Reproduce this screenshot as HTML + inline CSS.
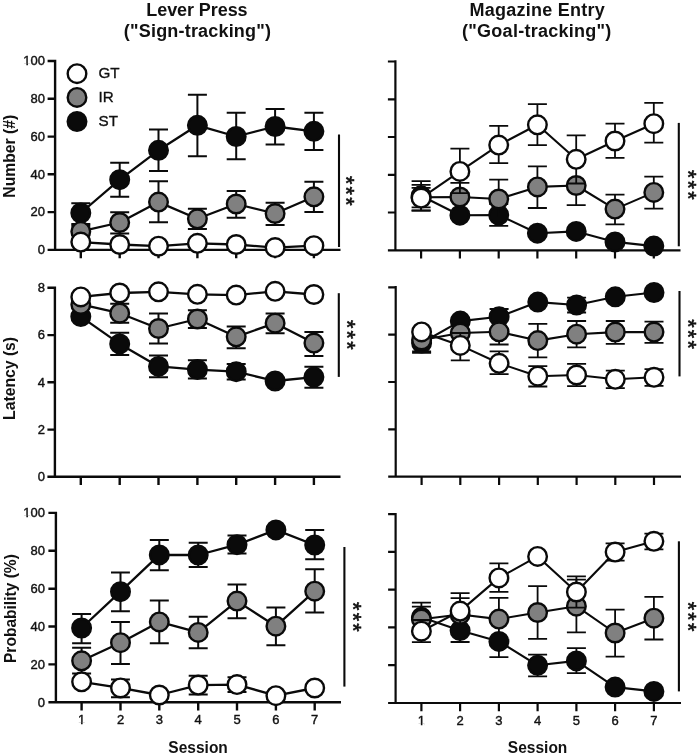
<!DOCTYPE html>
<html lang="en">
<head>
<meta charset="utf-8">
<title>Sign-tracking and goal-tracking across sessions</title>
<style>
html,body{margin:0;padding:0;background:#ffffff;}
body{width:697px;height:755px;overflow:hidden;}
svg{display:block;will-change:transform;transform:translateZ(0);filter:blur(0.4px);}
text{font-family:"Liberation Sans", Arial, sans-serif;fill:#111111;}
.tk{font-size:13px;stroke:#111;stroke-width:0.4px;}
.lg{font-size:15.2px;stroke:#111;stroke-width:0.35px;}
.b{font-weight:bold;}
.st{font-size:21.5px;letter-spacing:2.24px;stroke:#111;stroke-width:0.6px;}
</style>
</head>
<body>
<svg width="697" height="755" viewBox="0 0 697 755">
<rect x="0" y="0" width="697" height="755" fill="#ffffff"/>
<g>
<path d="M55.1,59.8V249.9M47.6,249.9H340.5M47.6,212.1H55.1M47.6,174.3H55.1M47.6,136.6H55.1M47.6,98.8H55.1M47.6,61.0H55.1M80.8,249.9V258.2M119.7,249.9V258.2M158.5,249.9V258.2M197.4,249.9V258.2M236.2,249.9V258.2M275.1,249.9V258.2M313.9,249.9V258.2" fill="none" stroke="#0a0a0a" stroke-width="2.4"/>
<text x="45.0" y="254" text-anchor="end" class="tk">0</text>
<text x="45.0" y="216" text-anchor="end" class="tk">20</text>
<text x="45.0" y="179" text-anchor="end" class="tk">40</text>
<text x="45.0" y="141" text-anchor="end" class="tk">60</text>
<text x="45.0" y="103" text-anchor="end" class="tk">80</text>
<text x="45.0" y="65" text-anchor="end" class="tk">100</text>
<rect x="23.30" y="63.58" width="3.06" height="2.72" fill="#ffffff"/>
<rect x="27.95" y="63.58" width="2.46" height="2.72" fill="#ffffff"/>
<path d="M80.8,213.0 L119.7,179.7 L158.5,150.3 L197.4,125.3 L236.2,136.5 L275.1,126.5 L313.9,131.3" fill="none" stroke="#0a0a0a" stroke-width="2.3" stroke-linejoin="round"/>
<path d="M80.8,213.0V203.3M71.3,203.3H90.3M80.8,213.0V223.9M71.3,223.9H90.3M119.7,179.7V162.7M110.2,162.7H129.2M119.7,179.7V196.8M110.2,196.8H129.2M158.5,150.3V129.4M149.0,129.4H168.0M158.5,150.3V171.1M149.0,171.1H168.0M197.4,125.3V94.8M187.9,94.8H206.9M197.4,125.3V156.3M187.9,156.3H206.9M236.2,136.5V112.7M226.7,112.7H245.7M236.2,136.5V159.2M226.7,159.2H245.7M275.1,126.5V109.1M265.6,109.1H284.6M275.1,126.5V144.4M265.6,144.4H284.6M313.9,131.3V112.7M304.4,112.7H323.4M313.9,131.3V149.9M304.4,149.9H323.4" fill="none" stroke="#0a0a0a" stroke-width="2.0"/>
<circle cx="80.8" cy="213.0" r="9.3" fill="#0a0a0a" stroke="#0a0a0a" stroke-width="2.4"/>
<circle cx="119.7" cy="179.7" r="9.3" fill="#0a0a0a" stroke="#0a0a0a" stroke-width="2.4"/>
<circle cx="158.5" cy="150.3" r="9.3" fill="#0a0a0a" stroke="#0a0a0a" stroke-width="2.4"/>
<circle cx="197.4" cy="125.3" r="9.3" fill="#0a0a0a" stroke="#0a0a0a" stroke-width="2.4"/>
<circle cx="236.2" cy="136.5" r="9.3" fill="#0a0a0a" stroke="#0a0a0a" stroke-width="2.4"/>
<circle cx="275.1" cy="126.5" r="9.3" fill="#0a0a0a" stroke="#0a0a0a" stroke-width="2.4"/>
<circle cx="313.9" cy="131.3" r="9.3" fill="#0a0a0a" stroke="#0a0a0a" stroke-width="2.4"/>
<path d="M80.8,231.4 L119.7,222.5 L158.5,202.1 L197.4,218.8 L236.2,204.0 L275.1,213.5 L313.9,196.8" fill="none" stroke="#0a0a0a" stroke-width="2.3" stroke-linejoin="round"/>
<path d="M80.8,231.4V225.8M71.3,225.8H90.3M80.8,231.4V241.0M71.3,241.0H90.3M119.7,222.5V212.3M110.2,212.3H129.2M119.7,222.5V233.6M110.2,233.6H129.2M158.5,202.1V181.3M149.0,181.3H168.0M158.5,202.1V222.3M149.0,222.3H168.0M197.4,218.8V208.8M187.9,208.8H206.9M197.4,218.8V229.0M187.9,229.0H206.9M236.2,204.0V190.9M226.7,190.9H245.7M236.2,204.0V217.8M226.7,217.8H245.7M275.1,213.5V202.8M265.6,202.8H284.6M275.1,213.5V225.0M265.6,225.0H284.6M313.9,196.8V181.8M304.4,181.8H323.4M313.9,196.8V211.9M304.4,211.9H323.4" fill="none" stroke="#0a0a0a" stroke-width="2.0"/>
<circle cx="80.8" cy="231.4" r="9.3" fill="#808080" stroke="#0a0a0a" stroke-width="2.4"/>
<circle cx="119.7" cy="222.5" r="9.3" fill="#808080" stroke="#0a0a0a" stroke-width="2.4"/>
<circle cx="158.5" cy="202.1" r="9.3" fill="#808080" stroke="#0a0a0a" stroke-width="2.4"/>
<circle cx="197.4" cy="218.8" r="9.3" fill="#808080" stroke="#0a0a0a" stroke-width="2.4"/>
<circle cx="236.2" cy="204.0" r="9.3" fill="#808080" stroke="#0a0a0a" stroke-width="2.4"/>
<circle cx="275.1" cy="213.5" r="9.3" fill="#808080" stroke="#0a0a0a" stroke-width="2.4"/>
<circle cx="313.9" cy="196.8" r="9.3" fill="#808080" stroke="#0a0a0a" stroke-width="2.4"/>
<path d="M80.8,242.1 L119.7,244.5 L158.5,246.2 L197.4,243.3 L236.2,244.5 L275.1,247.6 L313.9,245.7" fill="none" stroke="#0a0a0a" stroke-width="2.3" stroke-linejoin="round"/>
<circle cx="80.8" cy="242.1" r="9.3" fill="#ffffff" stroke="#0a0a0a" stroke-width="2.4"/>
<circle cx="119.7" cy="244.5" r="9.3" fill="#ffffff" stroke="#0a0a0a" stroke-width="2.4"/>
<circle cx="158.5" cy="246.2" r="9.3" fill="#ffffff" stroke="#0a0a0a" stroke-width="2.4"/>
<circle cx="197.4" cy="243.3" r="9.3" fill="#ffffff" stroke="#0a0a0a" stroke-width="2.4"/>
<circle cx="236.2" cy="244.5" r="9.3" fill="#ffffff" stroke="#0a0a0a" stroke-width="2.4"/>
<circle cx="275.1" cy="247.6" r="9.3" fill="#ffffff" stroke="#0a0a0a" stroke-width="2.4"/>
<circle cx="313.9" cy="245.7" r="9.3" fill="#ffffff" stroke="#0a0a0a" stroke-width="2.4"/>
<path d="M339,134.5V247" stroke="#0a0a0a" stroke-width="2.1" fill="none"/>
<text class="st" text-anchor="middle" transform="translate(339.1,191.82) rotate(90)">***</text>
</g>
<g>
<path d="M54.9,286.6V476.8M47.4,476.8H340.5M47.4,429.6H54.9M47.4,382.3H54.9M47.4,335.1H54.9M47.4,287.8H54.9M80.8,476.8V485.1M119.7,476.8V485.1M158.5,476.8V485.1M197.4,476.8V485.1M236.2,476.8V485.1M275.1,476.8V485.1M313.9,476.8V485.1" fill="none" stroke="#0a0a0a" stroke-width="2.4"/>
<text x="45.0" y="481" text-anchor="end" class="tk">0</text>
<text x="45.0" y="434" text-anchor="end" class="tk">2</text>
<text x="45.0" y="387" text-anchor="end" class="tk">4</text>
<text x="45.0" y="339" text-anchor="end" class="tk">6</text>
<text x="45.0" y="292" text-anchor="end" class="tk">8</text>
<path d="M80.8,316.6 L119.7,343.9 L158.5,366.4 L197.4,369.6 L236.2,371.7 L275.1,381.0 L313.9,377.1" fill="none" stroke="#0a0a0a" stroke-width="2.3" stroke-linejoin="round"/>
<path d="M119.7,343.9V332.7M110.2,332.7H129.2M119.7,343.9V354.9M110.2,354.9H129.2M158.5,366.4V355.4M149.0,355.4H168.0M158.5,366.4V377.2M149.0,377.2H168.0M197.4,369.6V360.3M187.9,360.3H206.9M197.4,369.6V378.6M187.9,378.6H206.9M236.2,371.7V364.0M226.7,364.0H245.7M236.2,371.7V379.4M226.7,379.4H245.7M313.9,377.1V366.8M304.4,366.8H323.4M313.9,377.1V387.8M304.4,387.8H323.4" fill="none" stroke="#0a0a0a" stroke-width="2.0"/>
<circle cx="80.8" cy="316.6" r="9.3" fill="#0a0a0a" stroke="#0a0a0a" stroke-width="2.4"/>
<circle cx="119.7" cy="343.9" r="9.3" fill="#0a0a0a" stroke="#0a0a0a" stroke-width="2.4"/>
<circle cx="158.5" cy="366.4" r="9.3" fill="#0a0a0a" stroke="#0a0a0a" stroke-width="2.4"/>
<circle cx="197.4" cy="369.6" r="9.3" fill="#0a0a0a" stroke="#0a0a0a" stroke-width="2.4"/>
<circle cx="236.2" cy="371.7" r="9.3" fill="#0a0a0a" stroke="#0a0a0a" stroke-width="2.4"/>
<circle cx="275.1" cy="381.0" r="9.3" fill="#0a0a0a" stroke="#0a0a0a" stroke-width="2.4"/>
<circle cx="313.9" cy="377.1" r="9.3" fill="#0a0a0a" stroke="#0a0a0a" stroke-width="2.4"/>
<path d="M80.8,304.4 L119.7,313.2 L158.5,328.5 L197.4,319.0 L236.2,336.8 L275.1,323.2 L313.9,343.1" fill="none" stroke="#0a0a0a" stroke-width="2.3" stroke-linejoin="round"/>
<path d="M119.7,313.2V303.7M110.2,303.7H129.2M119.7,313.2V322.8M110.2,322.8H129.2M158.5,328.5V313.6M149.0,313.6H168.0M158.5,328.5V343.5M149.0,343.5H168.0M197.4,319.0V310.2M187.9,310.2H206.9M197.4,319.0V327.9M187.9,327.9H206.9M236.2,336.8V326.4M226.7,326.4H245.7M236.2,336.8V348.2M226.7,348.2H245.7M275.1,323.2V313.6M265.6,313.6H284.6M275.1,323.2V333.2M265.6,333.2H284.6M313.9,343.1V331.9M304.4,331.9H323.4M313.9,343.1V355.9M304.4,355.9H323.4" fill="none" stroke="#0a0a0a" stroke-width="2.0"/>
<circle cx="80.8" cy="304.4" r="9.3" fill="#808080" stroke="#0a0a0a" stroke-width="2.4"/>
<circle cx="119.7" cy="313.2" r="9.3" fill="#808080" stroke="#0a0a0a" stroke-width="2.4"/>
<circle cx="158.5" cy="328.5" r="9.3" fill="#808080" stroke="#0a0a0a" stroke-width="2.4"/>
<circle cx="197.4" cy="319.0" r="9.3" fill="#808080" stroke="#0a0a0a" stroke-width="2.4"/>
<circle cx="236.2" cy="336.8" r="9.3" fill="#808080" stroke="#0a0a0a" stroke-width="2.4"/>
<circle cx="275.1" cy="323.2" r="9.3" fill="#808080" stroke="#0a0a0a" stroke-width="2.4"/>
<circle cx="313.9" cy="343.1" r="9.3" fill="#808080" stroke="#0a0a0a" stroke-width="2.4"/>
<path d="M80.8,296.9 L119.7,293.0 L158.5,291.8 L197.4,294.3 L236.2,295.1 L275.1,291.3 L313.9,294.5" fill="none" stroke="#0a0a0a" stroke-width="2.3" stroke-linejoin="round"/>
<circle cx="80.8" cy="296.9" r="9.3" fill="#ffffff" stroke="#0a0a0a" stroke-width="2.4"/>
<circle cx="119.7" cy="293.0" r="9.3" fill="#ffffff" stroke="#0a0a0a" stroke-width="2.4"/>
<circle cx="158.5" cy="291.8" r="9.3" fill="#ffffff" stroke="#0a0a0a" stroke-width="2.4"/>
<circle cx="197.4" cy="294.3" r="9.3" fill="#ffffff" stroke="#0a0a0a" stroke-width="2.4"/>
<circle cx="236.2" cy="295.1" r="9.3" fill="#ffffff" stroke="#0a0a0a" stroke-width="2.4"/>
<circle cx="275.1" cy="291.3" r="9.3" fill="#ffffff" stroke="#0a0a0a" stroke-width="2.4"/>
<circle cx="313.9" cy="294.5" r="9.3" fill="#ffffff" stroke="#0a0a0a" stroke-width="2.4"/>
<path d="M338.8,293.2V376.9" stroke="#0a0a0a" stroke-width="2.1" fill="none"/>
<text class="st" text-anchor="middle" transform="translate(340.4,335.92) rotate(90)">***</text>
</g>
<g>
<path d="M55.9,511.7V702.3M48.4,702.3H341.0M48.4,664.4H55.9M48.4,626.5H55.9M48.4,588.7H55.9M48.4,550.8H55.9M48.4,512.9H55.9M81.6,702.3V710.6M120.5,702.3V710.6M159.3,702.3V710.6M198.2,702.3V710.6M237.0,702.3V710.6M275.9,702.3V710.6M314.7,702.3V710.6" fill="none" stroke="#0a0a0a" stroke-width="2.4"/>
<text x="45.0" y="707" text-anchor="end" class="tk">0</text>
<text x="45.0" y="669" text-anchor="end" class="tk">20</text>
<text x="45.0" y="631" text-anchor="end" class="tk">40</text>
<text x="45.0" y="593" text-anchor="end" class="tk">60</text>
<text x="45.0" y="555" text-anchor="end" class="tk">80</text>
<text x="45.0" y="517" text-anchor="end" class="tk">100</text>
<rect x="23.30" y="515.58" width="3.06" height="2.72" fill="#ffffff"/>
<rect x="27.95" y="515.58" width="2.46" height="2.72" fill="#ffffff"/>
<text x="81.6" y="724" text-anchor="middle" class="tk">1</text>
<rect x="77.98" y="722.58" width="3.06" height="2.72" fill="#ffffff"/>
<rect x="82.62" y="722.58" width="2.46" height="2.72" fill="#ffffff"/>
<text x="120.5" y="724" text-anchor="middle" class="tk">2</text>
<text x="159.3" y="724" text-anchor="middle" class="tk">3</text>
<text x="198.2" y="724" text-anchor="middle" class="tk">4</text>
<text x="237.0" y="724" text-anchor="middle" class="tk">5</text>
<text x="275.9" y="724" text-anchor="middle" class="tk">6</text>
<text x="314.7" y="724" text-anchor="middle" class="tk">7</text>
<path d="M81.6,628.0 L120.5,591.7 L159.3,554.9 L198.2,555.0 L237.0,544.7 L275.9,529.9 L314.7,545.0" fill="none" stroke="#0a0a0a" stroke-width="2.3" stroke-linejoin="round"/>
<path d="M81.6,628.0V613.9M72.1,613.9H91.1M81.6,628.0V643.2M72.1,643.2H91.1M120.5,591.7V572.6M111.0,572.6H129.9M120.5,591.7V611.3M111.0,611.3H129.9M159.3,554.9V539.9M149.8,539.9H168.8M159.3,554.9V570.3M149.8,570.3H168.8M198.2,555.0V542.7M188.7,542.7H207.7M198.2,555.0V566.9M188.7,566.9H207.7M237.0,544.7V535.6M227.5,535.6H246.5M237.0,544.7V553.6M227.5,553.6H246.5M314.7,545.0V529.9M305.2,529.9H324.2M314.7,545.0V559.3M305.2,559.3H324.2" fill="none" stroke="#0a0a0a" stroke-width="2.0"/>
<circle cx="81.6" cy="628.0" r="9.3" fill="#0a0a0a" stroke="#0a0a0a" stroke-width="2.4"/>
<circle cx="120.5" cy="591.7" r="9.3" fill="#0a0a0a" stroke="#0a0a0a" stroke-width="2.4"/>
<circle cx="159.3" cy="554.9" r="9.3" fill="#0a0a0a" stroke="#0a0a0a" stroke-width="2.4"/>
<circle cx="198.2" cy="555.0" r="9.3" fill="#0a0a0a" stroke="#0a0a0a" stroke-width="2.4"/>
<circle cx="237.0" cy="544.7" r="9.3" fill="#0a0a0a" stroke="#0a0a0a" stroke-width="2.4"/>
<circle cx="275.9" cy="529.9" r="9.3" fill="#0a0a0a" stroke="#0a0a0a" stroke-width="2.4"/>
<circle cx="314.7" cy="545.0" r="9.3" fill="#0a0a0a" stroke="#0a0a0a" stroke-width="2.4"/>
<path d="M81.6,660.8 L120.5,642.7 L159.3,621.9 L198.2,632.4 L237.0,601.1 L275.9,626.2 L314.7,591.2" fill="none" stroke="#0a0a0a" stroke-width="2.3" stroke-linejoin="round"/>
<path d="M81.6,660.8V647.8M72.1,647.8H91.1M81.6,660.8V673.5M72.1,673.5H91.1M120.5,642.7V621.9M111.0,621.9H129.9M120.5,642.7V664.0M111.0,664.0H129.9M159.3,621.9V600.5M149.8,600.5H168.8M159.3,621.9V643.2M149.8,643.2H168.8M198.2,632.4V616.7M188.7,616.7H207.7M198.2,632.4V648.3M188.7,648.3H207.7M237.0,601.1V584.6M227.5,584.6H246.5M237.0,601.1V618.2M227.5,618.2H246.5M275.9,626.2V607.4M266.4,607.4H285.4M275.9,626.2V645.3M266.4,645.3H285.4M314.7,591.2V569.2M305.2,569.2H324.2M314.7,591.2V612.5M305.2,612.5H324.2" fill="none" stroke="#0a0a0a" stroke-width="2.0"/>
<circle cx="81.6" cy="660.8" r="9.3" fill="#808080" stroke="#0a0a0a" stroke-width="2.4"/>
<circle cx="120.5" cy="642.7" r="9.3" fill="#808080" stroke="#0a0a0a" stroke-width="2.4"/>
<circle cx="159.3" cy="621.9" r="9.3" fill="#808080" stroke="#0a0a0a" stroke-width="2.4"/>
<circle cx="198.2" cy="632.4" r="9.3" fill="#808080" stroke="#0a0a0a" stroke-width="2.4"/>
<circle cx="237.0" cy="601.1" r="9.3" fill="#808080" stroke="#0a0a0a" stroke-width="2.4"/>
<circle cx="275.9" cy="626.2" r="9.3" fill="#808080" stroke="#0a0a0a" stroke-width="2.4"/>
<circle cx="314.7" cy="591.2" r="9.3" fill="#808080" stroke="#0a0a0a" stroke-width="2.4"/>
<path d="M81.6,681.8 L120.5,687.9 L159.3,695.0 L198.2,685.1 L237.0,684.6 L275.9,695.7 L314.7,688.0" fill="none" stroke="#0a0a0a" stroke-width="2.3" stroke-linejoin="round"/>
<path d="M120.5,687.9V679.4M111.0,679.4H129.9M120.5,687.9V697.3M111.0,697.3H129.9M198.2,685.1V675.7M188.7,675.7H207.7M198.2,685.1V694.5M188.7,694.5H207.7M237.0,684.6V677.2M227.5,677.2H246.5M237.0,684.6V692.0M227.5,692.0H246.5" fill="none" stroke="#0a0a0a" stroke-width="2.0"/>
<circle cx="81.6" cy="681.8" r="9.3" fill="#ffffff" stroke="#0a0a0a" stroke-width="2.4"/>
<circle cx="120.5" cy="687.9" r="9.3" fill="#ffffff" stroke="#0a0a0a" stroke-width="2.4"/>
<circle cx="159.3" cy="695.0" r="9.3" fill="#ffffff" stroke="#0a0a0a" stroke-width="2.4"/>
<circle cx="198.2" cy="685.1" r="9.3" fill="#ffffff" stroke="#0a0a0a" stroke-width="2.4"/>
<circle cx="237.0" cy="684.6" r="9.3" fill="#ffffff" stroke="#0a0a0a" stroke-width="2.4"/>
<circle cx="275.9" cy="695.7" r="9.3" fill="#ffffff" stroke="#0a0a0a" stroke-width="2.4"/>
<circle cx="314.7" cy="688.0" r="9.3" fill="#ffffff" stroke="#0a0a0a" stroke-width="2.4"/>
<path d="M344.4,547V686.6" stroke="#0a0a0a" stroke-width="2.1" fill="none"/>
<text class="st" text-anchor="middle" transform="translate(346.4,618.02) rotate(90)">***</text>
</g>
<g>
<path d="M395.4,60.3V250.3M387.9,250.3H680.5M387.9,212.5H395.4M387.9,174.8H395.4M387.9,137.0H395.4M387.9,99.3H395.4M387.9,61.5H395.4M421.1,250.3V258.6M459.9,250.3V258.6M498.7,250.3V258.6M537.4,250.3V258.6M576.2,250.3V258.6M615.0,250.3V258.6M653.8,250.3V258.6" fill="none" stroke="#0a0a0a" stroke-width="2.2"/>
<path d="M421.1,195.8 L459.9,215.2 L498.7,215.0 L537.4,233.2 L576.2,231.4 L615.0,241.9 L653.8,246.1" fill="none" stroke="#0a0a0a" stroke-width="2.1" stroke-linejoin="round"/>
<path d="M421.1,195.8V181.1M411.6,181.1H430.6M421.1,195.8V210.5M411.6,210.5H430.6M498.7,215.0V204.0M489.2,204.0H508.2M498.7,215.0V225.9M489.2,225.9H508.2" fill="none" stroke="#0a0a0a" stroke-width="1.8"/>
<circle cx="421.1" cy="195.8" r="9.3" fill="#0a0a0a" stroke="#0a0a0a" stroke-width="2.4"/>
<circle cx="459.9" cy="215.2" r="9.3" fill="#0a0a0a" stroke="#0a0a0a" stroke-width="2.4"/>
<circle cx="498.7" cy="215.0" r="9.3" fill="#0a0a0a" stroke="#0a0a0a" stroke-width="2.4"/>
<circle cx="537.4" cy="233.2" r="9.3" fill="#0a0a0a" stroke="#0a0a0a" stroke-width="2.4"/>
<circle cx="576.2" cy="231.4" r="9.3" fill="#0a0a0a" stroke="#0a0a0a" stroke-width="2.4"/>
<circle cx="615.0" cy="241.9" r="9.3" fill="#0a0a0a" stroke="#0a0a0a" stroke-width="2.4"/>
<circle cx="653.8" cy="246.1" r="9.3" fill="#0a0a0a" stroke="#0a0a0a" stroke-width="2.4"/>
<path d="M421.1,197.3 L459.9,197.0 L498.7,199.0 L537.4,186.9 L576.2,185.5 L615.0,209.1 L653.8,192.4" fill="none" stroke="#0a0a0a" stroke-width="2.1" stroke-linejoin="round"/>
<path d="M421.1,197.3V187.8M411.6,187.8H430.6M421.1,197.3V207.3M411.6,207.3H430.6M459.9,197.0V182.9M450.4,182.9H469.4M459.9,197.0V211.5M450.4,211.5H469.4M498.7,199.0V179.6M489.2,179.6H508.2M498.7,199.0V218.0M489.2,218.0H508.2M537.4,186.9V166.4M527.9,166.4H546.9M537.4,186.9V208.0M527.9,208.0H546.9M576.2,185.5V205.2M566.7,205.2H585.7M615.0,209.1V194.6M605.5,194.6H624.5M615.0,209.1V224.4M605.5,224.4H624.5M653.8,192.4V176.6M644.3,176.6H663.3M653.8,192.4V208.6M644.3,208.6H663.3" fill="none" stroke="#0a0a0a" stroke-width="1.8"/>
<circle cx="421.1" cy="197.3" r="9.3" fill="#808080" stroke="#0a0a0a" stroke-width="2.4"/>
<circle cx="459.9" cy="197.0" r="9.3" fill="#808080" stroke="#0a0a0a" stroke-width="2.4"/>
<circle cx="498.7" cy="199.0" r="9.3" fill="#808080" stroke="#0a0a0a" stroke-width="2.4"/>
<circle cx="537.4" cy="186.9" r="9.3" fill="#808080" stroke="#0a0a0a" stroke-width="2.4"/>
<circle cx="576.2" cy="185.5" r="9.3" fill="#808080" stroke="#0a0a0a" stroke-width="2.4"/>
<circle cx="615.0" cy="209.1" r="9.3" fill="#808080" stroke="#0a0a0a" stroke-width="2.4"/>
<circle cx="653.8" cy="192.4" r="9.3" fill="#808080" stroke="#0a0a0a" stroke-width="2.4"/>
<path d="M421.1,198.1 L459.9,171.4 L498.7,145.1 L537.4,124.8 L576.2,159.3 L615.0,141.0 L653.8,123.7" fill="none" stroke="#0a0a0a" stroke-width="2.1" stroke-linejoin="round"/>
<path d="M421.1,198.1V184.9M411.6,184.9H430.6M421.1,198.1V210.7M411.6,210.7H430.6M459.9,171.4V148.7M450.4,148.7H469.4M459.9,171.4V193.1M450.4,193.1H469.4M498.7,145.1V125.9M489.2,125.9H508.2M498.7,145.1V163.2M489.2,163.2H508.2M537.4,124.8V104.2M527.9,104.2H546.9M537.4,124.8V145.1M527.9,145.1H546.9M576.2,159.3V135.4M566.7,135.4H585.7M576.2,159.3V183.5M566.7,183.5H585.7M615.0,141.0V123.7M605.5,123.7H624.5M615.0,141.0V157.9M605.5,157.9H624.5M653.8,123.7V102.9M644.3,102.9H663.3M653.8,123.7V142.6M644.3,142.6H663.3" fill="none" stroke="#0a0a0a" stroke-width="1.8"/>
<circle cx="421.1" cy="198.1" r="9.3" fill="#ffffff" stroke="#0a0a0a" stroke-width="2.4"/>
<circle cx="459.9" cy="171.4" r="9.3" fill="#ffffff" stroke="#0a0a0a" stroke-width="2.4"/>
<circle cx="498.7" cy="145.1" r="9.3" fill="#ffffff" stroke="#0a0a0a" stroke-width="2.4"/>
<circle cx="537.4" cy="124.8" r="9.3" fill="#ffffff" stroke="#0a0a0a" stroke-width="2.4"/>
<circle cx="576.2" cy="159.3" r="9.3" fill="#ffffff" stroke="#0a0a0a" stroke-width="2.4"/>
<circle cx="615.0" cy="141.0" r="9.3" fill="#ffffff" stroke="#0a0a0a" stroke-width="2.4"/>
<circle cx="653.8" cy="123.7" r="9.3" fill="#ffffff" stroke="#0a0a0a" stroke-width="2.4"/>
<path d="M678.8,122.9V246.3" stroke="#0a0a0a" stroke-width="2.1" fill="none"/>
<text class="st" text-anchor="middle" transform="translate(681.0,185.82) rotate(90)">***</text>
</g>
<g>
<path d="M395.7,286.1V476.6M388.2,476.6H681.0M388.2,429.3H395.7M388.2,382.0H395.7M388.2,334.6H395.7M388.2,287.3H395.7M421.6,476.6V484.9M460.3,476.6V484.9M499.1,476.6V484.9M537.8,476.6V484.9M576.6,476.6V484.9M615.3,476.6V484.9M654.0,476.6V484.9" fill="none" stroke="#0a0a0a" stroke-width="2.2"/>
<path d="M421.6,343.0 L460.3,321.1 L499.1,316.7 L537.8,302.1 L576.6,305.0 L615.3,296.8 L654.0,292.5" fill="none" stroke="#0a0a0a" stroke-width="2.1" stroke-linejoin="round"/>
<path d="M421.6,343.0V352.8M412.1,352.8H431.1M499.1,316.7V309.0M489.6,309.0H508.6M576.6,305.0V297.7M567.1,297.7H586.1M576.6,305.0V312.5M567.1,312.5H586.1" fill="none" stroke="#0a0a0a" stroke-width="1.8"/>
<circle cx="421.6" cy="343.0" r="9.3" fill="#0a0a0a" stroke="#0a0a0a" stroke-width="2.4"/>
<circle cx="460.3" cy="321.1" r="9.3" fill="#0a0a0a" stroke="#0a0a0a" stroke-width="2.4"/>
<circle cx="499.1" cy="316.7" r="9.3" fill="#0a0a0a" stroke="#0a0a0a" stroke-width="2.4"/>
<circle cx="537.8" cy="302.1" r="9.3" fill="#0a0a0a" stroke="#0a0a0a" stroke-width="2.4"/>
<circle cx="576.6" cy="305.0" r="9.3" fill="#0a0a0a" stroke="#0a0a0a" stroke-width="2.4"/>
<circle cx="615.3" cy="296.8" r="9.3" fill="#0a0a0a" stroke="#0a0a0a" stroke-width="2.4"/>
<circle cx="654.0" cy="292.5" r="9.3" fill="#0a0a0a" stroke="#0a0a0a" stroke-width="2.4"/>
<path d="M421.6,340.0 L460.3,333.0 L499.1,331.8 L537.8,340.6 L576.6,334.2 L615.3,332.1 L654.0,332.1" fill="none" stroke="#0a0a0a" stroke-width="2.1" stroke-linejoin="round"/>
<path d="M421.6,340.0V351.5M412.1,351.5H431.1M499.1,331.8V344.5M489.6,344.5H508.6M537.8,340.6V323.9M528.3,323.9H547.3M537.8,340.6V357.4M528.3,357.4H547.3M576.6,334.2V321.0M567.1,321.0H586.1M576.6,334.2V347.3M567.1,347.3H586.1M615.3,332.1V321.0M605.8,321.0H624.8M615.3,332.1V343.8M605.8,343.8H624.8M654.0,332.1V321.6M644.5,321.6H663.5M654.0,332.1V342.9M644.5,342.9H663.5" fill="none" stroke="#0a0a0a" stroke-width="1.8"/>
<circle cx="421.6" cy="340.0" r="9.3" fill="#808080" stroke="#0a0a0a" stroke-width="2.4"/>
<circle cx="460.3" cy="333.0" r="9.3" fill="#808080" stroke="#0a0a0a" stroke-width="2.4"/>
<circle cx="499.1" cy="331.8" r="9.3" fill="#808080" stroke="#0a0a0a" stroke-width="2.4"/>
<circle cx="537.8" cy="340.6" r="9.3" fill="#808080" stroke="#0a0a0a" stroke-width="2.4"/>
<circle cx="576.6" cy="334.2" r="9.3" fill="#808080" stroke="#0a0a0a" stroke-width="2.4"/>
<circle cx="615.3" cy="332.1" r="9.3" fill="#808080" stroke="#0a0a0a" stroke-width="2.4"/>
<circle cx="654.0" cy="332.1" r="9.3" fill="#808080" stroke="#0a0a0a" stroke-width="2.4"/>
<path d="M421.6,331.9 L460.3,345.4 L499.1,363.3 L537.8,376.2 L576.6,375.0 L615.3,379.3 L654.0,377.3" fill="none" stroke="#0a0a0a" stroke-width="2.1" stroke-linejoin="round"/>
<path d="M460.3,345.4V333.0M450.8,333.0H469.8M460.3,345.4V360.3M450.8,360.3H469.8M499.1,363.3V351.4M489.6,351.4H508.6M499.1,363.3V374.2M489.6,374.2H508.6M537.8,376.2V366.1M528.3,366.1H547.3M537.8,376.2V386.5M528.3,386.5H547.3M576.6,375.0V363.9M567.1,363.9H586.1M576.6,375.0V386.1M567.1,386.1H586.1M615.3,379.3V370.6M605.8,370.6H624.8M615.3,379.3V388.1M605.8,388.1H624.8M654.0,377.3V369.1M644.5,369.1H663.5M654.0,377.3V385.8M644.5,385.8H663.5" fill="none" stroke="#0a0a0a" stroke-width="1.8"/>
<circle cx="421.6" cy="331.9" r="9.3" fill="#ffffff" stroke="#0a0a0a" stroke-width="2.4"/>
<circle cx="460.3" cy="345.4" r="9.3" fill="#ffffff" stroke="#0a0a0a" stroke-width="2.4"/>
<circle cx="499.1" cy="363.3" r="9.3" fill="#ffffff" stroke="#0a0a0a" stroke-width="2.4"/>
<circle cx="537.8" cy="376.2" r="9.3" fill="#ffffff" stroke="#0a0a0a" stroke-width="2.4"/>
<circle cx="576.6" cy="375.0" r="9.3" fill="#ffffff" stroke="#0a0a0a" stroke-width="2.4"/>
<circle cx="615.3" cy="379.3" r="9.3" fill="#ffffff" stroke="#0a0a0a" stroke-width="2.4"/>
<circle cx="654.0" cy="377.3" r="9.3" fill="#ffffff" stroke="#0a0a0a" stroke-width="2.4"/>
<path d="M679.5,291V376.4" stroke="#0a0a0a" stroke-width="2.1" fill="none"/>
<text class="st" text-anchor="middle" transform="translate(680.7,335.12) rotate(90)">***</text>
</g>
<g>
<path d="M395.6,512.9V703.0M388.1,703.0H681.0M388.1,665.2H395.6M388.1,627.4H395.6M388.1,589.7H395.6M388.1,551.9H395.6M388.1,514.1H395.6M421.4,703.0V711.3M460.1,703.0V711.3M498.9,703.0V711.3M537.6,703.0V711.3M576.4,703.0V711.3M615.1,703.0V711.3M653.9,703.0V711.3" fill="none" stroke="#0a0a0a" stroke-width="2.2"/>
<text x="421.4" y="725" text-anchor="middle" class="tk">1</text>
<rect x="417.78" y="723.58" width="3.06" height="2.72" fill="#ffffff"/>
<rect x="422.42" y="723.58" width="2.46" height="2.72" fill="#ffffff"/>
<text x="460.1" y="725" text-anchor="middle" class="tk">2</text>
<text x="498.9" y="725" text-anchor="middle" class="tk">3</text>
<text x="537.6" y="725" text-anchor="middle" class="tk">4</text>
<text x="576.4" y="725" text-anchor="middle" class="tk">5</text>
<text x="615.1" y="725" text-anchor="middle" class="tk">6</text>
<text x="653.9" y="725" text-anchor="middle" class="tk">7</text>
<path d="M421.4,617.3 L460.1,630.6 L498.9,641.4 L537.6,665.3 L576.4,660.9 L615.1,687.1 L653.9,691.4" fill="none" stroke="#0a0a0a" stroke-width="2.1" stroke-linejoin="round"/>
<path d="M421.4,617.3V602.6M411.9,602.6H430.9M421.4,617.3V632.0M411.9,632.0H430.9M460.1,630.6V642.0M450.6,642.0H469.6M498.9,641.4V657.2M489.4,657.2H508.4M537.6,665.3V654.6M528.1,654.6H547.1M537.6,665.3V676.3M528.1,676.3H547.1M576.4,660.9V648.1M566.9,648.1H585.9M576.4,660.9V673.1M566.9,673.1H585.9" fill="none" stroke="#0a0a0a" stroke-width="1.8"/>
<circle cx="421.4" cy="617.3" r="9.3" fill="#0a0a0a" stroke="#0a0a0a" stroke-width="2.4"/>
<circle cx="460.1" cy="630.6" r="9.3" fill="#0a0a0a" stroke="#0a0a0a" stroke-width="2.4"/>
<circle cx="498.9" cy="641.4" r="9.3" fill="#0a0a0a" stroke="#0a0a0a" stroke-width="2.4"/>
<circle cx="537.6" cy="665.3" r="9.3" fill="#0a0a0a" stroke="#0a0a0a" stroke-width="2.4"/>
<circle cx="576.4" cy="660.9" r="9.3" fill="#0a0a0a" stroke="#0a0a0a" stroke-width="2.4"/>
<circle cx="615.1" cy="687.1" r="9.3" fill="#0a0a0a" stroke="#0a0a0a" stroke-width="2.4"/>
<circle cx="653.9" cy="691.4" r="9.3" fill="#0a0a0a" stroke="#0a0a0a" stroke-width="2.4"/>
<path d="M421.4,619.2 L460.1,614.5 L498.9,619.1 L537.6,612.5 L576.4,606.2 L615.1,633.0 L653.9,618.2" fill="none" stroke="#0a0a0a" stroke-width="2.1" stroke-linejoin="round"/>
<path d="M421.4,619.2V606.6M411.9,606.6H430.9M421.4,619.2V632.0M411.9,632.0H430.9M460.1,614.5V598.2M450.6,598.2H469.6M460.1,614.5V631.0M450.6,631.0H469.6M498.9,619.1V597.9M489.4,597.9H508.4M498.9,619.1V640.0M489.4,640.0H508.4M537.6,612.5V586.2M528.1,586.2H547.1M537.6,612.5V638.8M528.1,638.8H547.1M576.4,606.2V579.7M566.9,579.7H585.9M576.4,606.2V632.4M566.9,632.4H585.9M615.1,633.0V609.6M605.6,609.6H624.6M615.1,633.0V656.6M605.6,656.6H624.6M653.9,618.2V596.8M644.4,596.8H663.4M653.9,618.2V639.5M644.4,639.5H663.4" fill="none" stroke="#0a0a0a" stroke-width="1.8"/>
<circle cx="421.4" cy="619.2" r="9.3" fill="#808080" stroke="#0a0a0a" stroke-width="2.4"/>
<circle cx="460.1" cy="614.5" r="9.3" fill="#808080" stroke="#0a0a0a" stroke-width="2.4"/>
<circle cx="498.9" cy="619.1" r="9.3" fill="#808080" stroke="#0a0a0a" stroke-width="2.4"/>
<circle cx="537.6" cy="612.5" r="9.3" fill="#808080" stroke="#0a0a0a" stroke-width="2.4"/>
<circle cx="576.4" cy="606.2" r="9.3" fill="#808080" stroke="#0a0a0a" stroke-width="2.4"/>
<circle cx="615.1" cy="633.0" r="9.3" fill="#808080" stroke="#0a0a0a" stroke-width="2.4"/>
<circle cx="653.9" cy="618.2" r="9.3" fill="#808080" stroke="#0a0a0a" stroke-width="2.4"/>
<path d="M421.4,631.2 L460.1,611.1 L498.9,577.9 L537.6,556.4 L576.4,592.0 L615.1,552.1 L653.9,541.3" fill="none" stroke="#0a0a0a" stroke-width="2.1" stroke-linejoin="round"/>
<path d="M421.4,631.2V620.0M411.9,620.0H430.9M421.4,631.2V642.2M411.9,642.2H430.9M460.1,611.1V593.2M450.6,593.2H469.6M460.1,611.1V629.0M450.6,629.0H469.6M498.9,577.9V563.4M489.4,563.4H508.4M498.9,577.9V591.8M489.4,591.8H508.4M576.4,592.0V576.3M566.9,576.3H585.9M576.4,592.0V607.6M566.9,607.6H585.9M615.1,552.1V543.3M605.6,543.3H624.6M615.1,552.1V560.7M605.6,560.7H624.6M653.9,541.3V533.6M644.4,533.6H663.4M653.9,541.3V549.3M644.4,549.3H663.4" fill="none" stroke="#0a0a0a" stroke-width="1.8"/>
<circle cx="421.4" cy="631.2" r="9.3" fill="#ffffff" stroke="#0a0a0a" stroke-width="2.4"/>
<circle cx="460.1" cy="611.1" r="9.3" fill="#ffffff" stroke="#0a0a0a" stroke-width="2.4"/>
<circle cx="498.9" cy="577.9" r="9.3" fill="#ffffff" stroke="#0a0a0a" stroke-width="2.4"/>
<circle cx="537.6" cy="556.4" r="9.3" fill="#ffffff" stroke="#0a0a0a" stroke-width="2.4"/>
<circle cx="576.4" cy="592.0" r="9.3" fill="#ffffff" stroke="#0a0a0a" stroke-width="2.4"/>
<circle cx="615.1" cy="552.1" r="9.3" fill="#ffffff" stroke="#0a0a0a" stroke-width="2.4"/>
<circle cx="653.9" cy="541.3" r="9.3" fill="#ffffff" stroke="#0a0a0a" stroke-width="2.4"/>
<path d="M678.9,541.3V691.4" stroke="#0a0a0a" stroke-width="2.1" fill="none"/>
<text class="st" text-anchor="middle" transform="translate(681.2,617.62) rotate(90)">***</text>
</g>
<circle cx="77.0" cy="73.7" r="9.3" fill="#ffffff" stroke="#0a0a0a" stroke-width="2.4"/>
<text x="98.5" y="78.0" class="lg">GT</text>
<circle cx="77.0" cy="97.4" r="9.3" fill="#808080" stroke="#0a0a0a" stroke-width="2.4"/>
<text x="98.5" y="101.7" class="lg">IR</text>
<circle cx="77.0" cy="121.5" r="9.3" fill="#0a0a0a" stroke="#0a0a0a" stroke-width="2.4"/>
<text x="98.5" y="125.8" class="lg">ST</text>
<text transform="translate(196.9,16)" text-anchor="middle" class="b" font-size="18" letter-spacing="-0.08">Lever Press</text>
<text transform="translate(197.5,37)" text-anchor="middle" class="b" font-size="18" letter-spacing="0.19">(&quot;Sign-tracking&quot;)</text>
<text transform="translate(537.3,16)" text-anchor="middle" class="b" font-size="18" letter-spacing="0.25">Magazine Entry</text>
<text transform="translate(536.8,37)" text-anchor="middle" class="b" font-size="18" letter-spacing="0.26">(&quot;Goal-tracking&quot;)</text>
<text transform="translate(198.1,753) scale(0.97,1)" text-anchor="middle" class="b" font-size="16">Session</text>
<text transform="translate(537.6,753) scale(0.97,1)" text-anchor="middle" class="b" font-size="16">Session</text>
<text transform="translate(14.6,156.2) rotate(-90) scale(0.915,1)" text-anchor="middle" class="b" font-size="17.2">Number (#)</text>
<text transform="translate(14.5,378.4) rotate(-90) scale(0.915,1)" text-anchor="middle" class="b" font-size="17.2">Latency (s)</text>
<text transform="translate(15.9,608.6) rotate(-90) scale(0.905,1)" text-anchor="middle" class="b" font-size="17.2">Probability (%)</text>
</svg>
</body>
</html>
